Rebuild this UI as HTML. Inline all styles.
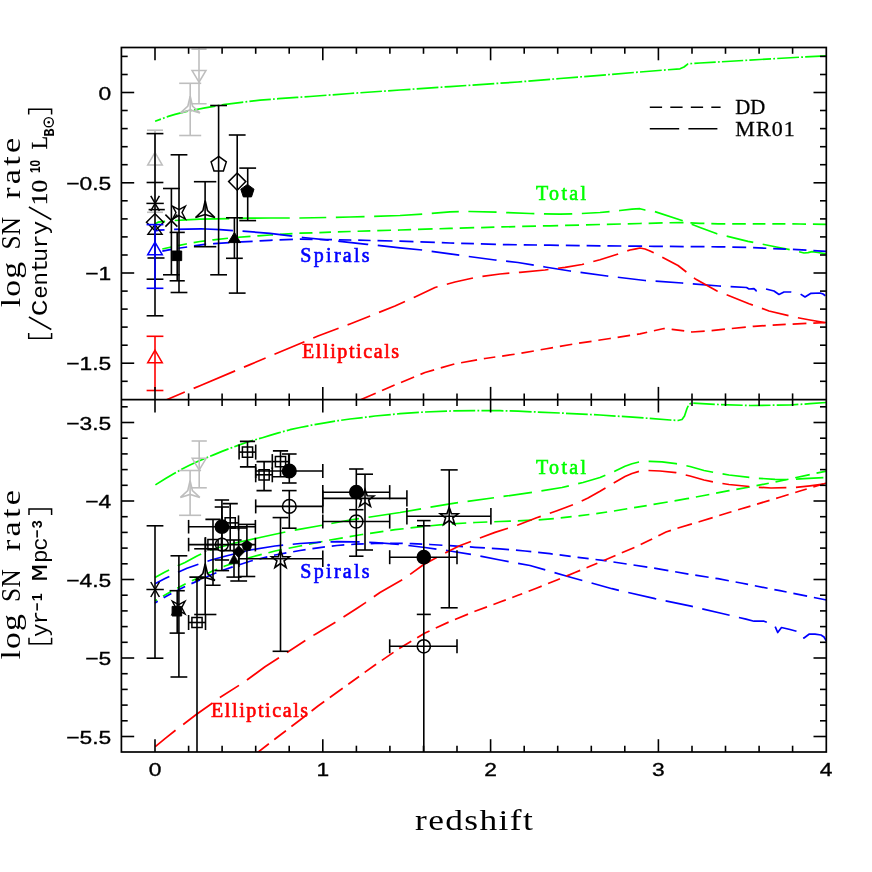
<!DOCTYPE html><html><head><meta charset="utf-8"><style>html,body{margin:0;padding:0;background:#fff}svg{display:block;will-change:transform;transform:translateZ(0)}</style></head><body><svg width="872" height="872" viewBox="0 0 872 872"><defs><clipPath id="ct"><rect x="121.4" y="47.5" width="704.9" height="352.2"/></clipPath><clipPath id="cb"><rect x="121.4" y="399.7" width="704.9" height="352.3"/></clipPath></defs>
<path d="M155.1 121.3 L168.3 116.4 L175.0 114.4 L186.7 111.4 L205.0 107.8 L223.4 104.7 L241.7 102.3 L260.1 100.2 L278.4 98.7 L296.8 97.4 L310.0 96.5 L350.0 93.5 L400.0 90.0 L450.0 86.6 L518.0 82.0 L560.0 78.5 L600.0 75.3 L640.0 72.0 L680.0 68.8 L684.0 67.0 L688.0 63.8 L700.0 63.0 L718.0 62.0 L760.0 59.5 L800.0 57.2 L826.0 55.8" fill="none" stroke="#00ff00" stroke-width="1.70" stroke-dasharray="6.2 2.2 1.8 2.2 21.9 2.2 1.8 2.2 21.9 2.2 1.8 2.2 21.9 2.2 1.8 2.2 21.5 2.2 1.8 2.2 21.4 2.2 1.8 2.2 22.0 2.2 1.8 2.2 21.6 2.2 1.8 2.2 21.6 2.2 1.8 2.2 22.4 2.2 1.8 2.2 21.8 2.2 1.8 2.2 21.8 2.2 1.8 2.2 21.8 2.2 1.8 2.2 21.8 2.2 1.8 2.2 21.8 2.2 1.8 2.2 21.8 2.2 1.8 2.2 21.8 2.2 1.8 2.2 21.8 2.2 1.8 2.2 21.8 2.2 1.8 2.2 21.8 2.2 1.8 2.2 21.4 2.2 1.8 2.2 21.3 2.2 1.8 2.2 21.7 2.2 1.8 2.2 21.8 2.2 1.8 2.2 26.2 0.0" clip-path="url(#ct)" stroke-linejoin="round"/>
<path d="M155.0 224.0 L158.0 222.2 L165.0 221.3 L170.0 220.8 L186.0 219.8 L200.0 219.2 L216.0 218.9 L250.0 218.2 L270.0 218.0 L300.0 218.0 L350.0 217.0 L400.0 215.5 L425.0 214.0 L450.0 211.8 L470.0 211.5 L500.0 212.3 L530.0 213.5 L560.0 214.2 L580.0 213.6 L600.0 212.5 L620.0 210.5 L632.0 209.2 L640.0 208.7 L645.0 210.0 L654.0 211.3 L682.0 220.5 L700.0 227.5 L717.0 233.8 L748.0 241.3 L779.0 247.5 L796.0 251.0 L804.0 253.0 L808.0 252.6 L812.0 251.7 L818.0 252.5 L826.0 253.8" fill="none" stroke="#00ff00" stroke-width="1.70" stroke-dasharray="10.7 9.6 54.6 9.6 50.9 9.6 26.9 9.6 28.7 9.6 48.1 9.6 27.1 9.6 28.2 9.6 28.2 9.6 28.3 9.6 27.8 9.6 26.6 9.6 29.3 9.6 27.4 9.6 27.3 9.6 27.6 9.6 32.3 0.0" clip-path="url(#ct)" stroke-linejoin="round"/>
<path d="M162.3 249.0 L172.5 246.7 L186.0 244.0 L200.0 241.5 L213.5 239.8 L235.0 237.5 L258.0 235.8 L270.0 235.0 L300.0 233.2 L350.0 231.5 L400.0 230.0 L450.0 228.4 L500.0 227.0 L550.0 225.8 L600.0 224.5 L640.0 223.5 L680.0 222.5 L700.0 223.3 L718.0 223.8 L760.0 223.8 L800.0 224.0 L826.0 224.3" fill="none" stroke="#00ff00" stroke-width="1.70" stroke-dasharray="9.2 6.9 9.0 6.9 12.0 6.9 15.7 6.9 15.7 6.9 15.7 6.9 12.6 6.9 13.1 6.9 11.6 6.9 12.8 6.9 12.8 6.9 13.8 6.9 13.2 6.9 14.6 6.9 13.3 6.9 14.5 6.9 13.3 6.9 14.0 6.9 13.8 6.9 15.3 6.9 14.0 6.9 14.0 6.9 14.0 6.9 14.0 6.9 14.0 6.9 14.0 6.9 14.0 6.9 14.0 6.9 13.6 6.9 12.7 6.9 13.1 6.9 13.7 6.9 18.0 0.0" clip-path="url(#ct)" stroke-linejoin="round"/>
<path d="M162.3 251.1 L173.3 249.0 L187.0 247.0 L204.7 244.3 L214.0 243.7 L235.0 242.2 L258.0 241.0 L270.0 240.3 L300.0 239.2 L350.0 240.0 L400.0 241.2 L450.0 243.0 L500.0 244.5 L550.0 245.2 L600.0 245.8 L654.0 246.3 L718.0 246.8 L750.0 247.5 L790.0 249.3 L826.0 251.3" fill="none" stroke="#0000ff" stroke-width="1.70" stroke-dasharray="9.5 6.9 8.8 6.9 12.3 6.9 16.4 6.9 16.4 6.9 13.1 6.9 13.4 6.9 12.8 6.9 12.5 6.9 12.4 6.9 12.4 6.9 15.0 6.9 14.1 6.9 14.5 6.9 12.5 6.9 12.8 6.9 15.1 6.9 14.0 6.9 13.3 6.9 15.0 6.9 13.9 6.9 13.9 6.9 13.9 6.9 13.9 6.9 13.9 6.9 13.9 6.9 13.9 6.9 14.0 6.9 13.9 6.9 13.2 6.9 12.8 6.9 13.6 6.9 17.6 0.0" clip-path="url(#ct)" stroke-linejoin="round"/>
<path d="M155.0 231.0 L159.0 230.2 L173.0 229.4 L201.0 228.9 L206.0 229.0 L220.0 229.7 L233.0 230.7 L242.0 231.0 L270.0 233.4 L303.0 237.5 L340.0 241.3 L367.0 244.3 L400.0 247.8 L422.0 250.0 L460.0 255.3 L495.0 260.0 L518.0 262.5 L545.0 267.0 L570.0 271.0 L607.0 276.0 L645.0 280.5 L682.0 283.0 L719.0 286.0 L746.5 287.5 L749.0 289.0 L754.0 288.7 L756.5 291.0 L760.0 290.0 L766.0 289.0 L774.0 291.0 L779.0 294.5 L784.0 292.0 L791.0 292.0 L800.0 293.7 L805.0 297.0 L811.0 293.3 L820.0 293.0 L823.0 294.0 L826.5 296.5" fill="none" stroke="#0000ff" stroke-width="1.70" stroke-dasharray="9.6 9.6 58.9 9.6 50.0 9.6 27.1 9.6 30.1 9.6 44.6 9.6 27.9 9.6 28.0 9.6 28.0 9.6 28.1 9.6 28.0 9.6 28.4 9.6 27.7 9.6 28.3 9.6 27.4 9.6 27.2 9.6 27.4 1.4 5.0 0.0" clip-path="url(#ct)" stroke-linejoin="round"/>
<path d="M166.0 400.0 L200.0 385.7 L250.0 364.6 L318.0 336.0 L350.0 324.0 L395.0 306.0 L415.0 297.0 L435.0 287.5 L455.0 282.0 L475.0 277.5 L500.0 274.0 L520.0 272.3 L545.0 270.0 L565.0 267.3 L582.0 264.5 L600.0 259.8 L615.0 255.0 L630.0 250.0 L636.0 248.8 L640.0 248.0 L645.0 249.0 L650.0 251.0 L662.0 257.0 L678.0 265.5 L695.0 278.7 L717.0 291.0 L749.0 303.7 L769.0 311.0 L794.0 317.0 L810.0 320.0 L826.5 323.0" fill="none" stroke="#ff0000" stroke-width="1.70" stroke-dasharray="20.4 9.6 45.0 9.6 23.5 9.6 32.5 9.6 27.1 9.6 24.3 9.6 28.1 9.6 26.2 9.6 26.9 9.6 27.1 9.6 29.7 9.6 26.4 9.6 26.0 9.6 27.7 9.6 28.4 9.6 27.3 9.6 28.2 9.6 27.6 9.6 27.4 1.9 5.0 0.0" clip-path="url(#ct)" stroke-linejoin="round"/>
<path d="M360.0 400.0 L390.0 387.0 L425.0 372.5 L455.0 363.8 L485.0 358.5 L518.0 353.8 L545.0 349.0 L575.0 343.8 L610.0 338.5 L640.0 333.8 L655.0 330.5 L664.0 328.5 L672.0 329.3 L692.0 332.0 L710.0 330.7 L730.0 328.7 L754.0 326.3 L790.0 324.2 L826.5 322.5" fill="none" stroke="#ff0000" stroke-width="1.70" stroke-dasharray="17.1 6.9 13.7 6.9 14.2 6.9 14.4 6.9 14.1 6.9 16.2 6.9 11.6 6.9 12.6 6.9 12.6 6.9 12.6 6.9 12.6 6.9 12.6 6.9 12.6 6.9 12.6 6.9 10.5 6.9 11.1 6.9 12.7 6.9 13.7 6.9 13.4 6.9 14.1 6.9 13.1 6.9 13.1 6.9 13.8 6.9 17.9 0.0" clip-path="url(#ct)" stroke-linejoin="round"/>
<path d="M155.4 484.9 L166.0 478.3 L175.0 473.0 L182.1 469.0 L190.0 465.1 L198.2 461.3 L206.0 458.0 L214.2 454.6 L222.0 451.4 L230.3 448.2 L238.0 445.4 L246.3 442.5 L254.0 440.1 L262.4 437.7 L270.0 435.4 L278.4 432.9 L290.0 429.7 L300.0 427.5 L311.4 425.2 L325.0 422.8 L338.0 420.7 L350.0 419.0 L365.7 417.2 L375.0 416.0 L400.0 413.7 L425.0 412.0 L450.0 411.0 L475.0 410.6 L500.0 410.7 L518.0 411.2 L560.0 413.0 L600.0 415.0 L640.0 417.7 L670.0 420.0 L678.0 420.5 L682.0 419.5 L684.5 416.0 L687.0 408.5 L689.0 404.2 L692.0 403.0 L718.0 404.5 L750.0 405.5 L790.0 405.0 L810.0 403.7 L826.0 402.5" fill="none" stroke="#00ff00" stroke-width="1.70" stroke-dasharray="24.0 2.2 1.8 2.2 25.5 2.2 1.8 2.2 19.8 2.2 1.8 2.2 19.8 2.2 1.8 2.2 22.7 2.2 1.8 2.2 22.2 2.2 1.8 2.2 20.8 2.2 1.8 2.2 21.7 2.2 1.8 2.2 22.0 2.2 1.8 2.2 22.0 2.2 1.8 2.2 22.0 2.2 1.8 2.2 22.0 2.2 1.8 2.2 22.0 2.2 1.8 2.2 22.0 2.2 1.8 2.2 22.0 2.2 1.8 2.2 21.8 2.2 1.8 2.2 21.7 2.2 1.8 2.2 21.8 2.2 1.8 2.2 21.7 2.2 1.8 2.2 19.8 2.2 1.8 2.2 21.6 2.2 1.8 2.2 21.7 2.2 1.8 2.2 21.6 2.2 1.8 2.2 21.7 2.2 1.8 2.2 26.5 0.0" clip-path="url(#cb)" stroke-linejoin="round"/>
<path d="M155.0 577.5 L165.0 572.0 L175.0 567.0 L185.0 562.5 L197.0 556.0 L210.0 550.0 L235.0 543.0 L260.0 537.5 L290.0 531.0 L318.0 526.0 L350.0 520.0 L400.0 512.5 L450.0 503.8 L505.0 496.2 L535.0 492.0 L562.0 487.5 L583.0 482.5 L600.0 477.5 L613.0 472.0 L625.0 466.3 L632.0 463.8 L639.0 462.0 L650.0 461.3 L662.0 461.9 L676.0 463.7 L690.0 466.5 L704.0 470.5 L717.0 473.0 L729.0 475.0 L754.0 478.0 L775.0 479.3 L786.0 479.5 L804.0 478.7 L826.5 477.5" fill="none" stroke="#00ff00" stroke-width="1.70" stroke-dasharray="16.0 9.6 26.2 9.6 77.6 9.6 27.6 9.6 28.1 9.6 53.2 9.6 27.9 9.6 26.7 9.6 28.7 9.6 27.9 9.6 28.5 9.6 26.7 9.6 28.5 9.6 27.5 9.6 27.0 9.6 27.6 9.6 27.4 3.1 5.0 0.0" clip-path="url(#cb)" stroke-linejoin="round"/>
<path d="M155.0 601.0 L165.0 595.0 L175.0 589.5 L187.0 583.0 L200.0 577.0 L212.0 571.3 L225.0 566.0 L250.0 557.5 L275.0 551.0 L300.0 546.0 L330.0 540.0 L362.0 534.5 L395.0 529.7 L425.0 526.3 L450.0 524.0 L475.0 522.5 L500.0 521.5 L518.0 520.8 L537.0 520.0 L555.0 518.5 L575.0 516.3 L595.0 513.8 L612.0 511.3 L630.0 508.3 L650.0 505.0 L670.0 501.6 L687.0 498.7 L704.0 495.5 L729.0 490.7 L754.0 486.2 L775.0 482.0 L791.0 478.7 L810.0 474.5 L826.5 471.2" fill="none" stroke="#00ff00" stroke-width="1.70" stroke-dasharray="2.4 6.9 9.4 6.9 9.6 6.9 10.9 6.9 10.0 6.9 16.6 6.9 16.6 6.9 13.8 6.9 13.8 6.9 13.8 6.9 13.8 6.9 13.8 6.9 13.5 6.9 13.5 6.9 13.4 6.9 14.3 6.9 14.5 6.9 14.2 6.9 16.7 6.9 14.0 6.9 15.2 6.9 11.0 6.9 11.0 6.9 11.0 6.9 13.5 6.9 12.8 6.9 14.4 6.9 14.8 6.9 13.7 6.9 13.7 6.9 13.6 6.9 12.5 6.9 13.2 6.9 14.9 6.9 15.3 0.0" clip-path="url(#cb)" stroke-linejoin="round"/>
<path d="M155.0 603.0 L165.0 597.0 L175.0 591.5 L187.0 585.5 L200.0 580.0 L212.0 574.5 L225.0 569.5 L250.0 561.2 L275.0 555.0 L300.0 550.5 L318.0 547.8 L337.0 545.5 L355.0 544.2 L375.0 543.5 L395.0 543.3 L412.0 543.6 L430.0 544.5 L450.0 545.7 L475.0 547.3 L500.0 548.8 L525.0 551.0 L550.0 553.7 L578.0 557.3 L605.0 560.7 L650.0 567.5 L690.0 574.3 L718.0 578.7 L741.0 583.0 L780.0 590.7 L826.5 600.0" fill="none" stroke="#0000ff" stroke-width="1.70" stroke-dasharray="3.2 6.9 8.8 6.9 8.6 6.9 9.4 6.9 10.9 6.9 10.5 6.9 14.2 6.9 8.0 6.9 12.6 6.9 12.6 6.9 12.6 6.9 12.6 6.9 12.6 6.9 12.6 6.9 12.6 6.9 12.6 6.9 13.3 6.9 13.7 6.9 15.1 6.9 17.3 6.9 15.4 6.9 14.7 6.9 11.2 6.9 11.2 6.9 11.2 6.9 13.4 6.9 14.0 6.9 14.4 6.9 13.5 6.9 13.5 6.9 13.6 6.9 12.7 6.9 13.0 6.9 12.5 6.9 14.0 6.9 17.4 0.0" clip-path="url(#cb)" stroke-linejoin="round"/>
<path d="M155.0 583.7 L165.0 578.5 L175.0 573.7 L187.0 568.3 L200.0 563.7 L212.0 559.8 L225.0 556.2 L250.0 550.0 L275.0 546.0 L300.0 543.5 L318.0 542.3 L337.0 541.7 L355.0 541.8 L375.0 542.5 L400.0 544.5 L425.0 547.5 L450.0 551.0 L475.0 555.0 L500.0 560.0 L530.0 565.5 L567.0 576.2 L612.0 588.7 L655.0 598.7 L691.0 606.2 L720.0 613.0 L746.0 619.2 L754.0 621.2 L764.0 621.2 L770.0 623.5 L775.0 626.2 L777.7 632.5 L781.5 627.5 L790.0 629.5 L798.0 631.7 L802.0 634.0 L804.0 638.0 L809.0 634.2 L815.0 634.2 L821.0 635.0 L824.0 637.0 L826.5 641.2" fill="none" stroke="#0000ff" stroke-width="1.70" stroke-dasharray="16.1 9.6 21.9 9.6 77.5 9.6 28.3 9.6 29.1 9.6 29.7 9.6 28.3 9.6 25.3 9.6 28.8 9.6 28.0 9.6 28.9 9.6 28.3 9.6 28.7 9.6 27.9 9.6 28.1 9.6 28.5 9.6 28.1 9.6 27.4 0.5 5.0 0.0" clip-path="url(#cb)" stroke-linejoin="round"/>
<path d="M155.3 746.6 L165.0 738.7 L176.6 729.4 L182.2 725.3 L196.6 714.3 L213.1 702.6 L219.3 697.8 L240.0 684.7 L246.1 680.6 L265.0 666.8 L285.0 653.8 L305.8 640.2 L315.0 634.4 L336.3 621.7 L357.5 608.0 L365.6 602.6 L380.0 592.5 L403.8 578.9 L423.4 564.8 L440.0 555.7 L459.5 545.8 L476.0 539.5 L495.0 532.4 L518.0 525.0 L536.6 517.8 L557.0 510.7 L575.0 504.0 L588.0 498.0 L600.0 491.3 L612.0 484.0 L625.0 476.5 L632.0 473.5 L639.0 471.3 L648.0 470.5 L660.0 471.0 L676.0 472.7 L690.0 476.0 L704.0 480.0 L717.0 482.7 L729.0 484.5 L754.0 487.0 L771.0 488.0 L794.0 487.5 L810.0 485.8 L826.5 483.7" fill="none" stroke="#ff0000" stroke-width="1.70" stroke-dasharray="26.0 9.6 36.0 9.6 22.6 9.6 39.0 9.6 21.9 9.6 25.6 9.6 26.9 9.6 33.1 9.6 31.5 9.6 28.3 9.6 29.7 9.6 25.3 9.6 24.6 9.6 27.1 9.6 27.9 9.6 28.0 9.6 28.1 9.6 27.0 9.6 27.6 9.6 27.4 3.3 5.0 0.0" clip-path="url(#cb)" stroke-linejoin="round"/>
<path d="M257.0 753.0 L275.0 739.0 L300.0 720.0 L318.0 706.0 L350.0 683.0 L375.0 665.0 L400.0 648.0 L425.0 633.0 L450.0 621.5 L475.0 611.3 L500.0 602.0 L518.0 595.3 L537.0 588.0 L557.0 580.0 L575.0 572.5 L590.0 566.3 L605.0 560.0 L620.0 553.6 L637.0 546.3 L650.0 540.0 L659.0 535.5 L666.0 532.0 L679.0 527.8 L700.0 521.5 L729.0 512.5 L754.0 505.0 L779.0 497.5 L800.0 491.0 L826.5 483.0" fill="none" stroke="#ff0000" stroke-width="1.70" stroke-dasharray="15.0 6.9 14.6 6.9 18.6 6.9 15.8 6.9 15.8 6.9 13.3 6.9 14.1 6.9 14.1 6.9 14.1 6.9 14.1 6.9 14.1 6.9 14.1 6.9 13.4 6.9 13.2 6.9 10.6 6.9 14.0 6.9 12.8 6.9 15.0 6.9 11.7 6.9 12.8 6.9 13.7 6.9 12.8 6.9 13.7 6.9 15.1 6.9 14.8 6.9 12.8 6.9 12.9 6.9 13.0 6.9 13.1 6.9 12.0 6.9 13.8 0.2 5.0 0.0" clip-path="url(#cb)" stroke-linejoin="round"/>
<path d="M649.8 107.2 H720.6" stroke="#000" stroke-width="1.6" stroke-dasharray="12.3 8.2" fill="none"/>
<path d="M649.8 128.7 H717.4" stroke="#000" stroke-width="1.6" stroke-dasharray="29.4 9.2" fill="none"/>
<line x1="199.0" y1="42.0" x2="199.0" y2="103.7" stroke="#bebebe" stroke-width="1.60" clip-path="url(#ct)"/>
<line x1="191.4" y1="42.0" x2="206.6" y2="42.0" stroke="#bebebe" stroke-width="1.60" clip-path="url(#ct)"/>
<line x1="191.4" y1="103.7" x2="206.6" y2="103.7" stroke="#bebebe" stroke-width="1.60" clip-path="url(#ct)"/>
<line x1="191.4" y1="49.2" x2="206.6" y2="49.2" stroke="#bebebe" stroke-width="1.60"/>
<polygon points="199.0,82.2 192.0,70.5 206.0,70.5" fill="none" stroke="#bebebe" stroke-width="1.50" stroke-linejoin="miter"/>
<line x1="190.2" y1="83.3" x2="190.2" y2="135.5" stroke="#bebebe" stroke-width="1.60"/>
<line x1="179.2" y1="83.3" x2="201.2" y2="83.3" stroke="#bebebe" stroke-width="1.60"/>
<line x1="179.2" y1="135.5" x2="201.2" y2="135.5" stroke="#bebebe" stroke-width="1.60"/>
<polygon points="190.2,96.1 192.5,106.0 199.9,112.9 190.2,109.9 180.5,112.9 187.9,106.0" fill="none" stroke="#bebebe" stroke-width="1.60" stroke-linejoin="miter"/>
<line x1="155.0" y1="130.2" x2="155.0" y2="212.3" stroke="#bebebe" stroke-width="1.60"/>
<line x1="147.0" y1="130.2" x2="163.0" y2="130.2" stroke="#bebebe" stroke-width="1.60"/>
<line x1="147.0" y1="212.3" x2="163.0" y2="212.3" stroke="#bebebe" stroke-width="1.60"/>
<polygon points="155.0,152.4 147.7,165.0 162.3,165.0" fill="none" stroke="#bebebe" stroke-width="1.50" stroke-linejoin="miter"/>
<line x1="155.0" y1="133.6" x2="155.0" y2="315.8" stroke="#000" stroke-width="1.60"/>
<line x1="146.6" y1="133.6" x2="163.4" y2="133.6" stroke="#000" stroke-width="1.60"/>
<line x1="146.6" y1="315.8" x2="163.4" y2="315.8" stroke="#000" stroke-width="1.60"/>
<line x1="146.6" y1="182.5" x2="163.4" y2="182.5" stroke="#000" stroke-width="1.60"/>
<line x1="148.6" y1="209.6" x2="164.8" y2="209.6" stroke="#000" stroke-width="1.60"/>
<line x1="147.5" y1="258.0" x2="164.5" y2="258.0" stroke="#000" stroke-width="1.60"/>
<line x1="146.6" y1="279.2" x2="163.4" y2="279.2" stroke="#000" stroke-width="1.60"/>
<line x1="146.4" y1="203.4" x2="163.8" y2="203.4" stroke="#000" stroke-width="1.50"/>
<line x1="150.8" y1="195.9" x2="159.4" y2="210.9" stroke="#000" stroke-width="1.50"/>
<line x1="159.4" y1="195.9" x2="150.8" y2="210.9" stroke="#000" stroke-width="1.50"/>
<polygon points="155.0,213.7 163.5,222.2 155.0,230.7 146.5,222.2" fill="none" stroke="#000" stroke-width="1.50" stroke-linejoin="miter"/>
<polygon points="155.0,224.5 147.9,234.2 162.1,234.2" fill="none" stroke="#000" stroke-width="1.40" stroke-linejoin="miter"/>
<line x1="155.0" y1="224.6" x2="155.0" y2="288.3" stroke="#0000ff" stroke-width="1.60"/>
<line x1="146.6" y1="224.6" x2="163.4" y2="224.6" stroke="#0000ff" stroke-width="1.60"/>
<line x1="146.6" y1="288.3" x2="163.4" y2="288.3" stroke="#0000ff" stroke-width="1.60"/>
<polygon points="155.0,242.2 147.7,254.8 162.3,254.8" fill="none" stroke="#0000ff" stroke-width="1.50" stroke-linejoin="miter"/>
<line x1="155.0" y1="336.3" x2="155.0" y2="390.5" stroke="#ff0000" stroke-width="1.60"/>
<line x1="146.6" y1="336.3" x2="163.4" y2="336.3" stroke="#ff0000" stroke-width="1.60"/>
<line x1="146.6" y1="390.5" x2="163.4" y2="390.5" stroke="#ff0000" stroke-width="1.60"/>
<polygon points="155.0,350.2 147.7,362.8 162.3,362.8" fill="none" stroke="#ff0000" stroke-width="1.50" stroke-linejoin="miter"/>
<line x1="171.4" y1="188.5" x2="171.4" y2="274.8" stroke="#000" stroke-width="1.60"/>
<line x1="163.0" y1="188.5" x2="179.8" y2="188.5" stroke="#000" stroke-width="1.60"/>
<line x1="163.0" y1="274.8" x2="179.8" y2="274.8" stroke="#000" stroke-width="1.60"/>
<line x1="165.4" y1="214.6" x2="177.4" y2="226.6" stroke="#000" stroke-width="1.50"/>
<line x1="165.4" y1="226.6" x2="177.4" y2="214.6" stroke="#000" stroke-width="1.50"/>
<line x1="179.0" y1="154.8" x2="179.0" y2="292.5" stroke="#000" stroke-width="1.60"/>
<line x1="170.6" y1="154.8" x2="187.4" y2="154.8" stroke="#000" stroke-width="1.60"/>
<line x1="170.6" y1="292.5" x2="187.4" y2="292.5" stroke="#000" stroke-width="1.60"/>
<polygon points="185.4,206.2 182.0,212.6 185.4,219.0 179.0,215.6 172.6,219.0 176.0,212.6 172.6,206.2 179.0,209.6" fill="none" stroke="#000" stroke-width="1.40" stroke-linejoin="miter"/>
<line x1="177.2" y1="232.4" x2="177.2" y2="280.8" stroke="#000" stroke-width="1.60"/>
<line x1="169.6" y1="232.4" x2="184.8" y2="232.4" stroke="#000" stroke-width="1.60"/>
<line x1="169.6" y1="280.8" x2="184.8" y2="280.8" stroke="#000" stroke-width="1.60"/>
<polygon points="172.1,251.0 181.7,251.0 181.7,260.6 172.1,260.6" fill="#000" stroke="#000" stroke-width="1.00" stroke-linejoin="miter"/>
<line x1="205.1" y1="181.7" x2="205.1" y2="246.7" stroke="#000" stroke-width="1.60"/>
<line x1="193.9" y1="181.7" x2="216.3" y2="181.7" stroke="#000" stroke-width="1.60"/>
<line x1="193.9" y1="246.7" x2="216.3" y2="246.7" stroke="#000" stroke-width="1.60"/>
<polygon points="205.2,200.7 207.5,210.6 214.9,217.5 205.2,214.5 195.5,217.5 202.9,210.6" fill="none" stroke="#000" stroke-width="1.60" stroke-linejoin="miter"/>
<line x1="218.6" y1="105.5" x2="218.6" y2="274.8" stroke="#000" stroke-width="1.60"/>
<line x1="210.2" y1="105.5" x2="227.0" y2="105.5" stroke="#000" stroke-width="1.60"/>
<line x1="210.2" y1="274.8" x2="227.0" y2="274.8" stroke="#000" stroke-width="1.60"/>
<polygon points="218.7,156.4 226.3,161.9 223.4,170.9 214.0,170.9 211.1,161.9" fill="none" stroke="#000" stroke-width="1.50" stroke-linejoin="miter"/>
<line x1="237.2" y1="135.0" x2="237.2" y2="293.1" stroke="#000" stroke-width="1.60"/>
<line x1="228.8" y1="135.0" x2="245.6" y2="135.0" stroke="#000" stroke-width="1.60"/>
<line x1="228.8" y1="293.1" x2="245.6" y2="293.1" stroke="#000" stroke-width="1.60"/>
<polygon points="237.2,173.0 245.8,181.6 237.2,190.2 228.6,181.6" fill="none" stroke="#000" stroke-width="1.50" stroke-linejoin="miter"/>
<line x1="247.7" y1="168.1" x2="247.7" y2="220.6" stroke="#000" stroke-width="1.60"/>
<line x1="239.3" y1="168.1" x2="256.1" y2="168.1" stroke="#000" stroke-width="1.60"/>
<line x1="239.3" y1="220.6" x2="256.1" y2="220.6" stroke="#000" stroke-width="1.60"/>
<polygon points="247.4,184.4 254.0,189.2 251.5,196.9 243.3,196.9 240.8,189.2" fill="#000" stroke="#000" stroke-width="1.00" stroke-linejoin="miter"/>
<line x1="234.4" y1="217.8" x2="234.4" y2="258.3" stroke="#000" stroke-width="1.60"/>
<line x1="226.0" y1="217.8" x2="242.8" y2="217.8" stroke="#000" stroke-width="1.60"/>
<line x1="226.0" y1="258.3" x2="242.8" y2="258.3" stroke="#000" stroke-width="1.60"/>
<polygon points="234.4,232.4 228.3,242.6 240.5,242.6" fill="#000" stroke="#000" stroke-width="1.00" stroke-linejoin="miter"/>
<line x1="199.2" y1="441.0" x2="199.2" y2="487.8" stroke="#bebebe" stroke-width="1.60"/>
<line x1="191.6" y1="441.0" x2="206.8" y2="441.0" stroke="#bebebe" stroke-width="1.60"/>
<line x1="191.6" y1="487.8" x2="206.8" y2="487.8" stroke="#bebebe" stroke-width="1.60"/>
<polygon points="199.2,470.0 192.2,458.3 206.2,458.3" fill="none" stroke="#bebebe" stroke-width="1.50" stroke-linejoin="miter"/>
<line x1="190.1" y1="470.5" x2="190.1" y2="515.3" stroke="#bebebe" stroke-width="1.60"/>
<line x1="179.1" y1="470.5" x2="201.1" y2="470.5" stroke="#bebebe" stroke-width="1.60"/>
<line x1="179.1" y1="515.3" x2="201.1" y2="515.3" stroke="#bebebe" stroke-width="1.60"/>
<polygon points="190.1,480.6 192.4,490.5 199.8,497.4 190.1,494.4 180.4,497.4 187.8,490.5" fill="none" stroke="#bebebe" stroke-width="1.60" stroke-linejoin="miter"/>
<line x1="155.0" y1="525.8" x2="155.0" y2="658.2" stroke="#000" stroke-width="1.60"/>
<line x1="146.6" y1="525.8" x2="163.4" y2="525.8" stroke="#000" stroke-width="1.60"/>
<line x1="146.6" y1="658.2" x2="163.4" y2="658.2" stroke="#000" stroke-width="1.60"/>
<line x1="146.4" y1="589.5" x2="163.8" y2="589.5" stroke="#000" stroke-width="1.50"/>
<line x1="150.8" y1="582.0" x2="159.4" y2="597.0" stroke="#000" stroke-width="1.50"/>
<line x1="159.4" y1="582.0" x2="150.8" y2="597.0" stroke="#000" stroke-width="1.50"/>
<line x1="178.9" y1="555.8" x2="178.9" y2="677.0" stroke="#000" stroke-width="1.60"/>
<line x1="170.5" y1="555.8" x2="187.3" y2="555.8" stroke="#000" stroke-width="1.60"/>
<line x1="170.5" y1="677.0" x2="187.3" y2="677.0" stroke="#000" stroke-width="1.60"/>
<polygon points="185.1,601.2 181.7,607.6 185.1,614.0 178.7,610.6 172.3,614.0 175.7,607.6 172.3,601.2 178.7,604.6" fill="none" stroke="#000" stroke-width="1.40" stroke-linejoin="miter"/>
<line x1="177.2" y1="590.7" x2="177.2" y2="633.1" stroke="#000" stroke-width="1.60"/>
<line x1="169.6" y1="590.7" x2="184.8" y2="590.7" stroke="#000" stroke-width="1.60"/>
<line x1="169.6" y1="633.1" x2="184.8" y2="633.1" stroke="#000" stroke-width="1.60"/>
<polygon points="172.1,606.4 181.7,606.4 181.7,616.0 172.1,616.0" fill="#000" stroke="#000" stroke-width="1.00" stroke-linejoin="miter"/>
<line x1="205.2" y1="537.4" x2="205.2" y2="614.5" stroke="#000" stroke-width="1.60"/>
<line x1="194.2" y1="548.8" x2="216.4" y2="548.8" stroke="#000" stroke-width="1.60"/>
<line x1="194.2" y1="614.5" x2="216.4" y2="614.5" stroke="#000" stroke-width="1.60"/>
<polygon points="205.2,563.6 207.5,573.5 214.9,580.4 205.2,577.4 195.5,580.4 202.9,573.5" fill="none" stroke="#000" stroke-width="1.60" stroke-linejoin="miter"/>
<line x1="247.5" y1="441.4" x2="247.5" y2="466.9" stroke="#000" stroke-width="1.60" clip-path="url(#cb)"/>
<line x1="239.9" y1="441.4" x2="255.1" y2="441.4" stroke="#000" stroke-width="1.60" clip-path="url(#cb)"/>
<line x1="239.9" y1="466.9" x2="255.1" y2="466.9" stroke="#000" stroke-width="1.60" clip-path="url(#cb)"/>
<line x1="239.1" y1="452.1" x2="255.7" y2="452.1" stroke="#000" stroke-width="1.60"/>
<line x1="239.1" y1="444.6" x2="239.1" y2="459.6" stroke="#000" stroke-width="1.60"/>
<line x1="255.7" y1="444.6" x2="255.7" y2="459.6" stroke="#000" stroke-width="1.60"/>
<polygon points="242.4,447.0 252.6,447.0 252.6,457.2 242.4,457.2" fill="none" stroke="#000" stroke-width="1.50" stroke-linejoin="miter"/>
<line x1="264.1" y1="461.6" x2="264.1" y2="490.6" stroke="#000" stroke-width="1.60" clip-path="url(#cb)"/>
<line x1="256.5" y1="461.6" x2="271.7" y2="461.6" stroke="#000" stroke-width="1.60" clip-path="url(#cb)"/>
<line x1="256.5" y1="490.6" x2="271.7" y2="490.6" stroke="#000" stroke-width="1.60" clip-path="url(#cb)"/>
<line x1="255.7" y1="474.8" x2="272.3" y2="474.8" stroke="#000" stroke-width="1.60"/>
<line x1="255.7" y1="467.3" x2="255.7" y2="482.3" stroke="#000" stroke-width="1.60"/>
<line x1="272.3" y1="467.3" x2="272.3" y2="482.3" stroke="#000" stroke-width="1.60"/>
<polygon points="259.0,469.7 269.2,469.7 269.2,479.9 259.0,479.9" fill="none" stroke="#000" stroke-width="1.50" stroke-linejoin="miter"/>
<line x1="280.5" y1="450.9" x2="280.5" y2="476.7" stroke="#000" stroke-width="1.60" clip-path="url(#cb)"/>
<line x1="272.9" y1="450.9" x2="288.1" y2="450.9" stroke="#000" stroke-width="1.60" clip-path="url(#cb)"/>
<line x1="272.9" y1="476.7" x2="288.1" y2="476.7" stroke="#000" stroke-width="1.60" clip-path="url(#cb)"/>
<line x1="272.3" y1="461.6" x2="288.7" y2="461.6" stroke="#000" stroke-width="1.60"/>
<line x1="272.3" y1="454.1" x2="272.3" y2="469.1" stroke="#000" stroke-width="1.60"/>
<line x1="288.7" y1="454.1" x2="288.7" y2="469.1" stroke="#000" stroke-width="1.60"/>
<polygon points="275.4,456.5 285.6,456.5 285.6,466.7 275.4,466.7" fill="none" stroke="#000" stroke-width="1.50" stroke-linejoin="miter"/>
<line x1="230.2" y1="503.6" x2="230.2" y2="550.6" stroke="#000" stroke-width="1.60" clip-path="url(#cb)"/>
<line x1="222.6" y1="503.6" x2="237.8" y2="503.6" stroke="#000" stroke-width="1.60" clip-path="url(#cb)"/>
<line x1="222.6" y1="550.6" x2="237.8" y2="550.6" stroke="#000" stroke-width="1.60" clip-path="url(#cb)"/>
<line x1="222.0" y1="522.9" x2="238.5" y2="522.9" stroke="#000" stroke-width="1.60"/>
<line x1="222.0" y1="515.4" x2="222.0" y2="530.4" stroke="#000" stroke-width="1.60"/>
<line x1="238.5" y1="515.4" x2="238.5" y2="530.4" stroke="#000" stroke-width="1.60"/>
<polygon points="225.1,517.8 235.3,517.8 235.3,528.0 225.1,528.0" fill="none" stroke="#000" stroke-width="1.50" stroke-linejoin="miter"/>
<line x1="213.0" y1="519.4" x2="213.0" y2="585.3" stroke="#000" stroke-width="1.60" clip-path="url(#cb)"/>
<line x1="205.4" y1="519.4" x2="220.6" y2="519.4" stroke="#000" stroke-width="1.60" clip-path="url(#cb)"/>
<line x1="205.4" y1="585.3" x2="220.6" y2="585.3" stroke="#000" stroke-width="1.60" clip-path="url(#cb)"/>
<line x1="205.5" y1="544.6" x2="221.5" y2="544.6" stroke="#000" stroke-width="1.60"/>
<line x1="205.5" y1="537.1" x2="205.5" y2="552.1" stroke="#000" stroke-width="1.60"/>
<line x1="221.5" y1="537.1" x2="221.5" y2="552.1" stroke="#000" stroke-width="1.60"/>
<polygon points="207.9,539.5 218.1,539.5 218.1,549.7 207.9,549.7" fill="none" stroke="#000" stroke-width="1.50" stroke-linejoin="miter"/>
<line x1="197.0" y1="577.1" x2="197.0" y2="760.0" stroke="#000" stroke-width="1.60" clip-path="url(#cb)"/>
<line x1="189.4" y1="577.1" x2="204.6" y2="577.1" stroke="#000" stroke-width="1.60" clip-path="url(#cb)"/>
<line x1="189.4" y1="760.0" x2="204.6" y2="760.0" stroke="#000" stroke-width="1.60" clip-path="url(#cb)"/>
<line x1="188.6" y1="622.5" x2="205.5" y2="622.5" stroke="#000" stroke-width="1.60"/>
<line x1="188.6" y1="615.0" x2="188.6" y2="630.0" stroke="#000" stroke-width="1.60"/>
<line x1="205.5" y1="615.0" x2="205.5" y2="630.0" stroke="#000" stroke-width="1.60"/>
<polygon points="191.9,617.4 202.1,617.4 202.1,627.6 191.9,627.6" fill="none" stroke="#000" stroke-width="1.50" stroke-linejoin="miter"/>
<line x1="188.6" y1="526.7" x2="255.4" y2="526.7" stroke="#000" stroke-width="1.60"/>
<line x1="188.6" y1="519.9" x2="188.6" y2="533.5" stroke="#000" stroke-width="1.60"/>
<line x1="255.4" y1="519.9" x2="255.4" y2="533.5" stroke="#000" stroke-width="1.60"/>
<line x1="221.9" y1="500.0" x2="221.9" y2="560.0" stroke="#000" stroke-width="1.60"/>
<line x1="214.7" y1="500.0" x2="229.1" y2="500.0" stroke="#000" stroke-width="1.60"/>
<line x1="214.7" y1="560.0" x2="229.1" y2="560.0" stroke="#000" stroke-width="1.60"/>
<circle cx="221.9" cy="526.7" r="6.6" fill="#000" stroke="#000" stroke-width="1.5"/>
<line x1="188.6" y1="544.6" x2="255.4" y2="544.6" stroke="#000" stroke-width="1.60"/>
<line x1="188.6" y1="537.8" x2="188.6" y2="551.4" stroke="#000" stroke-width="1.60"/>
<line x1="255.4" y1="537.8" x2="255.4" y2="551.4" stroke="#000" stroke-width="1.60"/>
<line x1="221.9" y1="507.0" x2="221.9" y2="570.6" stroke="#000" stroke-width="1.60"/>
<line x1="214.7" y1="507.0" x2="229.1" y2="507.0" stroke="#000" stroke-width="1.60"/>
<line x1="214.7" y1="570.6" x2="229.1" y2="570.6" stroke="#000" stroke-width="1.60"/>
<circle cx="221.9" cy="544.6" r="6.4" fill="none" stroke="#000" stroke-width="1.5"/>
<line x1="238.7" y1="528.0" x2="238.7" y2="581.0" stroke="#000" stroke-width="1.60"/>
<line x1="230.3" y1="528.0" x2="247.1" y2="528.0" stroke="#000" stroke-width="1.60"/>
<line x1="230.3" y1="581.0" x2="247.1" y2="581.0" stroke="#000" stroke-width="1.60"/>
<polygon points="238.7,545.7 244.7,551.7 238.7,557.7 232.7,551.7" fill="#000" stroke="#000" stroke-width="0.60" stroke-linejoin="miter"/>
<line x1="246.9" y1="524.4" x2="246.9" y2="576.5" stroke="#000" stroke-width="1.60"/>
<line x1="238.5" y1="524.4" x2="255.3" y2="524.4" stroke="#000" stroke-width="1.60"/>
<line x1="238.5" y1="576.5" x2="255.3" y2="576.5" stroke="#000" stroke-width="1.60"/>
<polygon points="246.9,540.1 252.3,544.0 250.3,550.4 243.5,550.4 241.5,544.0" fill="#000" stroke="#000" stroke-width="0.50" stroke-linejoin="miter"/>
<line x1="234.0" y1="540.0" x2="234.0" y2="577.1" stroke="#000" stroke-width="1.60"/>
<line x1="226.4" y1="540.0" x2="241.6" y2="540.0" stroke="#000" stroke-width="1.60"/>
<line x1="226.4" y1="577.1" x2="241.6" y2="577.1" stroke="#000" stroke-width="1.60"/>
<polygon points="234.0,554.2 228.8,563.8 239.2,563.8" fill="#000" stroke="#000" stroke-width="0.60" stroke-linejoin="miter"/>
<line x1="255.7" y1="471.0" x2="322.8" y2="471.0" stroke="#000" stroke-width="1.60"/>
<line x1="255.7" y1="464.0" x2="255.7" y2="478.0" stroke="#000" stroke-width="1.60"/>
<line x1="322.8" y1="464.0" x2="322.8" y2="478.0" stroke="#000" stroke-width="1.60"/>
<line x1="289.3" y1="454.0" x2="289.3" y2="483.0" stroke="#000" stroke-width="1.60"/>
<line x1="282.0" y1="454.0" x2="296.6" y2="454.0" stroke="#000" stroke-width="1.60"/>
<line x1="282.0" y1="483.0" x2="296.6" y2="483.0" stroke="#000" stroke-width="1.60"/>
<circle cx="289.3" cy="471.0" r="6.8" fill="#000" stroke="#000" stroke-width="1.5"/>
<line x1="255.7" y1="506.4" x2="322.8" y2="506.4" stroke="#000" stroke-width="1.60"/>
<line x1="255.7" y1="499.4" x2="255.7" y2="513.4" stroke="#000" stroke-width="1.60"/>
<line x1="322.8" y1="499.4" x2="322.8" y2="513.4" stroke="#000" stroke-width="1.60"/>
<line x1="289.3" y1="490.6" x2="289.3" y2="528.2" stroke="#000" stroke-width="1.60"/>
<line x1="282.0" y1="490.6" x2="296.6" y2="490.6" stroke="#000" stroke-width="1.60"/>
<line x1="282.0" y1="528.2" x2="296.6" y2="528.2" stroke="#000" stroke-width="1.60"/>
<circle cx="289.3" cy="506.4" r="6.8" fill="none" stroke="#000" stroke-width="1.5"/>
<line x1="238.9" y1="558.8" x2="322.8" y2="558.8" stroke="#000" stroke-width="1.60"/>
<line x1="238.9" y1="550.6" x2="238.9" y2="567.0" stroke="#000" stroke-width="1.60"/>
<line x1="322.8" y1="550.6" x2="322.8" y2="567.0" stroke="#000" stroke-width="1.60"/>
<line x1="280.5" y1="517.6" x2="280.5" y2="651.3" stroke="#000" stroke-width="1.60"/>
<line x1="272.6" y1="517.6" x2="288.4" y2="517.6" stroke="#000" stroke-width="1.60"/>
<line x1="272.6" y1="651.3" x2="288.4" y2="651.3" stroke="#000" stroke-width="1.60"/>
<polygon points="280.5,550.2 282.7,556.6 289.5,556.8 284.1,560.9 286.1,567.4 280.5,563.5 274.9,567.4 276.9,560.9 271.5,556.8 278.3,556.6" fill="none" stroke="#000" stroke-width="1.60" stroke-linejoin="miter"/>
<line x1="322.8" y1="492.2" x2="389.7" y2="492.2" stroke="#000" stroke-width="1.60"/>
<line x1="322.8" y1="485.1" x2="322.8" y2="499.3" stroke="#000" stroke-width="1.60"/>
<line x1="389.7" y1="485.1" x2="389.7" y2="499.3" stroke="#000" stroke-width="1.60"/>
<line x1="356.3" y1="469.0" x2="356.3" y2="556.2" stroke="#000" stroke-width="1.60"/>
<line x1="349.1" y1="469.0" x2="363.5" y2="469.0" stroke="#000" stroke-width="1.60"/>
<line x1="349.1" y1="556.2" x2="363.5" y2="556.2" stroke="#000" stroke-width="1.60"/>
<line x1="349.1" y1="509.7" x2="363.5" y2="509.7" stroke="#000" stroke-width="1.60"/>
<circle cx="356.3" cy="492.2" r="6.6" fill="#000" stroke="#000" stroke-width="1.5"/>
<line x1="322.8" y1="521.5" x2="389.7" y2="521.5" stroke="#000" stroke-width="1.60"/>
<line x1="322.8" y1="514.4" x2="322.8" y2="528.6" stroke="#000" stroke-width="1.60"/>
<line x1="389.7" y1="514.4" x2="389.7" y2="528.6" stroke="#000" stroke-width="1.60"/>
<circle cx="356.3" cy="521.5" r="6.6" fill="none" stroke="#000" stroke-width="1.5"/>
<line x1="322.8" y1="498.4" x2="406.9" y2="498.4" stroke="#000" stroke-width="1.60"/>
<line x1="322.8" y1="490.2" x2="322.8" y2="506.6" stroke="#000" stroke-width="1.60"/>
<line x1="406.9" y1="490.2" x2="406.9" y2="506.6" stroke="#000" stroke-width="1.60"/>
<line x1="365.0" y1="474.2" x2="365.0" y2="550.0" stroke="#000" stroke-width="1.60"/>
<line x1="357.0" y1="474.2" x2="373.0" y2="474.2" stroke="#000" stroke-width="1.60"/>
<line x1="357.0" y1="550.0" x2="373.0" y2="550.0" stroke="#000" stroke-width="1.60"/>
<polygon points="365.0,489.4 367.2,495.8 373.9,495.9 368.6,500.0 370.5,506.4 365.0,502.6 359.5,506.4 361.4,500.0 356.1,495.9 362.8,495.8" fill="none" stroke="#000" stroke-width="1.60" stroke-linejoin="miter"/>
<line x1="406.9" y1="516.3" x2="490.9" y2="516.3" stroke="#000" stroke-width="1.60"/>
<line x1="406.9" y1="508.0" x2="406.9" y2="524.6" stroke="#000" stroke-width="1.60"/>
<line x1="490.9" y1="508.0" x2="490.9" y2="524.6" stroke="#000" stroke-width="1.60"/>
<line x1="449.2" y1="469.9" x2="449.2" y2="607.8" stroke="#000" stroke-width="1.60"/>
<line x1="440.7" y1="469.9" x2="457.7" y2="469.9" stroke="#000" stroke-width="1.60"/>
<line x1="440.7" y1="607.8" x2="457.7" y2="607.8" stroke="#000" stroke-width="1.60"/>
<polygon points="449.2,507.2 451.4,513.6 458.2,513.8 452.8,517.9 454.8,524.4 449.2,520.5 443.6,524.4 445.6,517.9 440.2,513.8 447.0,513.6" fill="none" stroke="#000" stroke-width="1.60" stroke-linejoin="miter"/>
<line x1="389.7" y1="557.2" x2="457.0" y2="557.2" stroke="#000" stroke-width="1.60"/>
<line x1="389.7" y1="550.2" x2="389.7" y2="564.2" stroke="#000" stroke-width="1.60"/>
<line x1="457.0" y1="550.2" x2="457.0" y2="564.2" stroke="#000" stroke-width="1.60"/>
<line x1="423.8" y1="520.6" x2="423.8" y2="752.0" stroke="#000" stroke-width="1.60"/>
<line x1="417.0" y1="520.6" x2="430.6" y2="520.6" stroke="#000" stroke-width="1.60"/>
<line x1="417.0" y1="525.8" x2="430.6" y2="525.8" stroke="#000" stroke-width="1.60"/>
<line x1="416.8" y1="614.4" x2="430.8" y2="614.4" stroke="#000" stroke-width="1.60"/>
<circle cx="423.8" cy="557.2" r="6.6" fill="#000" stroke="#000" stroke-width="1.5"/>
<line x1="389.7" y1="646.3" x2="457.0" y2="646.3" stroke="#000" stroke-width="1.60"/>
<line x1="389.7" y1="639.3" x2="389.7" y2="653.3" stroke="#000" stroke-width="1.60"/>
<line x1="457.0" y1="639.3" x2="457.0" y2="653.3" stroke="#000" stroke-width="1.60"/>
<circle cx="423.8" cy="646.3" r="6.6" fill="none" stroke="#000" stroke-width="1.5"/>
<rect x="121.4" y="47.5" width="704.9" height="704.5" fill="none" stroke="#000" stroke-width="1.70"/>
<line x1="121.4" y1="399.7" x2="826.3" y2="399.7" stroke="#000" stroke-width="1.70"/>
<line x1="155.0" y1="47.5" x2="155.0" y2="60.3" stroke="#000" stroke-width="1.60"/>
<line x1="155.0" y1="386.9" x2="155.0" y2="412.5" stroke="#000" stroke-width="1.60"/>
<line x1="155.0" y1="752.0" x2="155.0" y2="739.2" stroke="#000" stroke-width="1.60"/>
<line x1="188.6" y1="47.5" x2="188.6" y2="53.8" stroke="#000" stroke-width="1.60"/>
<line x1="188.6" y1="393.4" x2="188.6" y2="406.0" stroke="#000" stroke-width="1.60"/>
<line x1="188.6" y1="752.0" x2="188.6" y2="745.7" stroke="#000" stroke-width="1.60"/>
<line x1="222.1" y1="47.5" x2="222.1" y2="53.8" stroke="#000" stroke-width="1.60"/>
<line x1="222.1" y1="393.4" x2="222.1" y2="406.0" stroke="#000" stroke-width="1.60"/>
<line x1="222.1" y1="752.0" x2="222.1" y2="745.7" stroke="#000" stroke-width="1.60"/>
<line x1="255.7" y1="47.5" x2="255.7" y2="53.8" stroke="#000" stroke-width="1.60"/>
<line x1="255.7" y1="393.4" x2="255.7" y2="406.0" stroke="#000" stroke-width="1.60"/>
<line x1="255.7" y1="752.0" x2="255.7" y2="745.7" stroke="#000" stroke-width="1.60"/>
<line x1="289.2" y1="47.5" x2="289.2" y2="53.8" stroke="#000" stroke-width="1.60"/>
<line x1="289.2" y1="393.4" x2="289.2" y2="406.0" stroke="#000" stroke-width="1.60"/>
<line x1="289.2" y1="752.0" x2="289.2" y2="745.7" stroke="#000" stroke-width="1.60"/>
<line x1="322.8" y1="47.5" x2="322.8" y2="60.3" stroke="#000" stroke-width="1.60"/>
<line x1="322.8" y1="386.9" x2="322.8" y2="412.5" stroke="#000" stroke-width="1.60"/>
<line x1="322.8" y1="752.0" x2="322.8" y2="739.2" stroke="#000" stroke-width="1.60"/>
<line x1="356.4" y1="47.5" x2="356.4" y2="53.8" stroke="#000" stroke-width="1.60"/>
<line x1="356.4" y1="393.4" x2="356.4" y2="406.0" stroke="#000" stroke-width="1.60"/>
<line x1="356.4" y1="752.0" x2="356.4" y2="745.7" stroke="#000" stroke-width="1.60"/>
<line x1="389.9" y1="47.5" x2="389.9" y2="53.8" stroke="#000" stroke-width="1.60"/>
<line x1="389.9" y1="393.4" x2="389.9" y2="406.0" stroke="#000" stroke-width="1.60"/>
<line x1="389.9" y1="752.0" x2="389.9" y2="745.7" stroke="#000" stroke-width="1.60"/>
<line x1="423.5" y1="47.5" x2="423.5" y2="53.8" stroke="#000" stroke-width="1.60"/>
<line x1="423.5" y1="393.4" x2="423.5" y2="406.0" stroke="#000" stroke-width="1.60"/>
<line x1="423.5" y1="752.0" x2="423.5" y2="745.7" stroke="#000" stroke-width="1.60"/>
<line x1="457.0" y1="47.5" x2="457.0" y2="53.8" stroke="#000" stroke-width="1.60"/>
<line x1="457.0" y1="393.4" x2="457.0" y2="406.0" stroke="#000" stroke-width="1.60"/>
<line x1="457.0" y1="752.0" x2="457.0" y2="745.7" stroke="#000" stroke-width="1.60"/>
<line x1="490.6" y1="47.5" x2="490.6" y2="60.3" stroke="#000" stroke-width="1.60"/>
<line x1="490.6" y1="386.9" x2="490.6" y2="412.5" stroke="#000" stroke-width="1.60"/>
<line x1="490.6" y1="752.0" x2="490.6" y2="739.2" stroke="#000" stroke-width="1.60"/>
<line x1="524.2" y1="47.5" x2="524.2" y2="53.8" stroke="#000" stroke-width="1.60"/>
<line x1="524.2" y1="393.4" x2="524.2" y2="406.0" stroke="#000" stroke-width="1.60"/>
<line x1="524.2" y1="752.0" x2="524.2" y2="745.7" stroke="#000" stroke-width="1.60"/>
<line x1="557.7" y1="47.5" x2="557.7" y2="53.8" stroke="#000" stroke-width="1.60"/>
<line x1="557.7" y1="393.4" x2="557.7" y2="406.0" stroke="#000" stroke-width="1.60"/>
<line x1="557.7" y1="752.0" x2="557.7" y2="745.7" stroke="#000" stroke-width="1.60"/>
<line x1="591.3" y1="47.5" x2="591.3" y2="53.8" stroke="#000" stroke-width="1.60"/>
<line x1="591.3" y1="393.4" x2="591.3" y2="406.0" stroke="#000" stroke-width="1.60"/>
<line x1="591.3" y1="752.0" x2="591.3" y2="745.7" stroke="#000" stroke-width="1.60"/>
<line x1="624.8" y1="47.5" x2="624.8" y2="53.8" stroke="#000" stroke-width="1.60"/>
<line x1="624.8" y1="393.4" x2="624.8" y2="406.0" stroke="#000" stroke-width="1.60"/>
<line x1="624.8" y1="752.0" x2="624.8" y2="745.7" stroke="#000" stroke-width="1.60"/>
<line x1="658.4" y1="47.5" x2="658.4" y2="60.3" stroke="#000" stroke-width="1.60"/>
<line x1="658.4" y1="386.9" x2="658.4" y2="412.5" stroke="#000" stroke-width="1.60"/>
<line x1="658.4" y1="752.0" x2="658.4" y2="739.2" stroke="#000" stroke-width="1.60"/>
<line x1="692.0" y1="47.5" x2="692.0" y2="53.8" stroke="#000" stroke-width="1.60"/>
<line x1="692.0" y1="393.4" x2="692.0" y2="406.0" stroke="#000" stroke-width="1.60"/>
<line x1="692.0" y1="752.0" x2="692.0" y2="745.7" stroke="#000" stroke-width="1.60"/>
<line x1="725.5" y1="47.5" x2="725.5" y2="53.8" stroke="#000" stroke-width="1.60"/>
<line x1="725.5" y1="393.4" x2="725.5" y2="406.0" stroke="#000" stroke-width="1.60"/>
<line x1="725.5" y1="752.0" x2="725.5" y2="745.7" stroke="#000" stroke-width="1.60"/>
<line x1="759.1" y1="47.5" x2="759.1" y2="53.8" stroke="#000" stroke-width="1.60"/>
<line x1="759.1" y1="393.4" x2="759.1" y2="406.0" stroke="#000" stroke-width="1.60"/>
<line x1="759.1" y1="752.0" x2="759.1" y2="745.7" stroke="#000" stroke-width="1.60"/>
<line x1="792.6" y1="47.5" x2="792.6" y2="53.8" stroke="#000" stroke-width="1.60"/>
<line x1="792.6" y1="393.4" x2="792.6" y2="406.0" stroke="#000" stroke-width="1.60"/>
<line x1="792.6" y1="752.0" x2="792.6" y2="745.7" stroke="#000" stroke-width="1.60"/>
<line x1="121.4" y1="381.3" x2="127.7" y2="381.3" stroke="#000" stroke-width="1.60"/>
<line x1="826.3" y1="381.3" x2="820.0" y2="381.3" stroke="#000" stroke-width="1.60"/>
<line x1="121.4" y1="363.2" x2="134.2" y2="363.2" stroke="#000" stroke-width="1.60"/>
<line x1="826.3" y1="363.2" x2="813.5" y2="363.2" stroke="#000" stroke-width="1.60"/>
<line x1="121.4" y1="345.2" x2="127.7" y2="345.2" stroke="#000" stroke-width="1.60"/>
<line x1="826.3" y1="345.2" x2="820.0" y2="345.2" stroke="#000" stroke-width="1.60"/>
<line x1="121.4" y1="327.1" x2="127.7" y2="327.1" stroke="#000" stroke-width="1.60"/>
<line x1="826.3" y1="327.1" x2="820.0" y2="327.1" stroke="#000" stroke-width="1.60"/>
<line x1="121.4" y1="309.1" x2="127.7" y2="309.1" stroke="#000" stroke-width="1.60"/>
<line x1="826.3" y1="309.1" x2="820.0" y2="309.1" stroke="#000" stroke-width="1.60"/>
<line x1="121.4" y1="291.1" x2="127.7" y2="291.1" stroke="#000" stroke-width="1.60"/>
<line x1="826.3" y1="291.1" x2="820.0" y2="291.1" stroke="#000" stroke-width="1.60"/>
<line x1="121.4" y1="273.0" x2="134.2" y2="273.0" stroke="#000" stroke-width="1.60"/>
<line x1="826.3" y1="273.0" x2="813.5" y2="273.0" stroke="#000" stroke-width="1.60"/>
<line x1="121.4" y1="255.0" x2="127.7" y2="255.0" stroke="#000" stroke-width="1.60"/>
<line x1="826.3" y1="255.0" x2="820.0" y2="255.0" stroke="#000" stroke-width="1.60"/>
<line x1="121.4" y1="236.9" x2="127.7" y2="236.9" stroke="#000" stroke-width="1.60"/>
<line x1="826.3" y1="236.9" x2="820.0" y2="236.9" stroke="#000" stroke-width="1.60"/>
<line x1="121.4" y1="218.9" x2="127.7" y2="218.9" stroke="#000" stroke-width="1.60"/>
<line x1="826.3" y1="218.9" x2="820.0" y2="218.9" stroke="#000" stroke-width="1.60"/>
<line x1="121.4" y1="200.8" x2="127.7" y2="200.8" stroke="#000" stroke-width="1.60"/>
<line x1="826.3" y1="200.8" x2="820.0" y2="200.8" stroke="#000" stroke-width="1.60"/>
<line x1="121.4" y1="182.8" x2="134.2" y2="182.8" stroke="#000" stroke-width="1.60"/>
<line x1="826.3" y1="182.8" x2="813.5" y2="182.8" stroke="#000" stroke-width="1.60"/>
<line x1="121.4" y1="164.7" x2="127.7" y2="164.7" stroke="#000" stroke-width="1.60"/>
<line x1="826.3" y1="164.7" x2="820.0" y2="164.7" stroke="#000" stroke-width="1.60"/>
<line x1="121.4" y1="146.7" x2="127.7" y2="146.7" stroke="#000" stroke-width="1.60"/>
<line x1="826.3" y1="146.7" x2="820.0" y2="146.7" stroke="#000" stroke-width="1.60"/>
<line x1="121.4" y1="128.6" x2="127.7" y2="128.6" stroke="#000" stroke-width="1.60"/>
<line x1="826.3" y1="128.6" x2="820.0" y2="128.6" stroke="#000" stroke-width="1.60"/>
<line x1="121.4" y1="110.5" x2="127.7" y2="110.5" stroke="#000" stroke-width="1.60"/>
<line x1="826.3" y1="110.5" x2="820.0" y2="110.5" stroke="#000" stroke-width="1.60"/>
<line x1="121.4" y1="92.5" x2="134.2" y2="92.5" stroke="#000" stroke-width="1.60"/>
<line x1="826.3" y1="92.5" x2="813.5" y2="92.5" stroke="#000" stroke-width="1.60"/>
<line x1="121.4" y1="74.5" x2="127.7" y2="74.5" stroke="#000" stroke-width="1.60"/>
<line x1="826.3" y1="74.5" x2="820.0" y2="74.5" stroke="#000" stroke-width="1.60"/>
<line x1="121.4" y1="56.4" x2="127.7" y2="56.4" stroke="#000" stroke-width="1.60"/>
<line x1="826.3" y1="56.4" x2="820.0" y2="56.4" stroke="#000" stroke-width="1.60"/>
<line x1="121.4" y1="736.5" x2="134.2" y2="736.5" stroke="#000" stroke-width="1.60"/>
<line x1="826.3" y1="736.5" x2="813.5" y2="736.5" stroke="#000" stroke-width="1.60"/>
<line x1="121.4" y1="720.8" x2="127.7" y2="720.8" stroke="#000" stroke-width="1.60"/>
<line x1="826.3" y1="720.8" x2="820.0" y2="720.8" stroke="#000" stroke-width="1.60"/>
<line x1="121.4" y1="705.1" x2="127.7" y2="705.1" stroke="#000" stroke-width="1.60"/>
<line x1="826.3" y1="705.1" x2="820.0" y2="705.1" stroke="#000" stroke-width="1.60"/>
<line x1="121.4" y1="689.4" x2="127.7" y2="689.4" stroke="#000" stroke-width="1.60"/>
<line x1="826.3" y1="689.4" x2="820.0" y2="689.4" stroke="#000" stroke-width="1.60"/>
<line x1="121.4" y1="673.7" x2="127.7" y2="673.7" stroke="#000" stroke-width="1.60"/>
<line x1="826.3" y1="673.7" x2="820.0" y2="673.7" stroke="#000" stroke-width="1.60"/>
<line x1="121.4" y1="658.0" x2="134.2" y2="658.0" stroke="#000" stroke-width="1.60"/>
<line x1="826.3" y1="658.0" x2="813.5" y2="658.0" stroke="#000" stroke-width="1.60"/>
<line x1="121.4" y1="642.3" x2="127.7" y2="642.3" stroke="#000" stroke-width="1.60"/>
<line x1="826.3" y1="642.3" x2="820.0" y2="642.3" stroke="#000" stroke-width="1.60"/>
<line x1="121.4" y1="626.6" x2="127.7" y2="626.6" stroke="#000" stroke-width="1.60"/>
<line x1="826.3" y1="626.6" x2="820.0" y2="626.6" stroke="#000" stroke-width="1.60"/>
<line x1="121.4" y1="610.9" x2="127.7" y2="610.9" stroke="#000" stroke-width="1.60"/>
<line x1="826.3" y1="610.9" x2="820.0" y2="610.9" stroke="#000" stroke-width="1.60"/>
<line x1="121.4" y1="595.2" x2="127.7" y2="595.2" stroke="#000" stroke-width="1.60"/>
<line x1="826.3" y1="595.2" x2="820.0" y2="595.2" stroke="#000" stroke-width="1.60"/>
<line x1="121.4" y1="579.5" x2="134.2" y2="579.5" stroke="#000" stroke-width="1.60"/>
<line x1="826.3" y1="579.5" x2="813.5" y2="579.5" stroke="#000" stroke-width="1.60"/>
<line x1="121.4" y1="563.8" x2="127.7" y2="563.8" stroke="#000" stroke-width="1.60"/>
<line x1="826.3" y1="563.8" x2="820.0" y2="563.8" stroke="#000" stroke-width="1.60"/>
<line x1="121.4" y1="548.1" x2="127.7" y2="548.1" stroke="#000" stroke-width="1.60"/>
<line x1="826.3" y1="548.1" x2="820.0" y2="548.1" stroke="#000" stroke-width="1.60"/>
<line x1="121.4" y1="532.4" x2="127.7" y2="532.4" stroke="#000" stroke-width="1.60"/>
<line x1="826.3" y1="532.4" x2="820.0" y2="532.4" stroke="#000" stroke-width="1.60"/>
<line x1="121.4" y1="516.7" x2="127.7" y2="516.7" stroke="#000" stroke-width="1.60"/>
<line x1="826.3" y1="516.7" x2="820.0" y2="516.7" stroke="#000" stroke-width="1.60"/>
<line x1="121.4" y1="501.0" x2="134.2" y2="501.0" stroke="#000" stroke-width="1.60"/>
<line x1="826.3" y1="501.0" x2="813.5" y2="501.0" stroke="#000" stroke-width="1.60"/>
<line x1="121.4" y1="485.3" x2="127.7" y2="485.3" stroke="#000" stroke-width="1.60"/>
<line x1="826.3" y1="485.3" x2="820.0" y2="485.3" stroke="#000" stroke-width="1.60"/>
<line x1="121.4" y1="469.6" x2="127.7" y2="469.6" stroke="#000" stroke-width="1.60"/>
<line x1="826.3" y1="469.6" x2="820.0" y2="469.6" stroke="#000" stroke-width="1.60"/>
<line x1="121.4" y1="453.9" x2="127.7" y2="453.9" stroke="#000" stroke-width="1.60"/>
<line x1="826.3" y1="453.9" x2="820.0" y2="453.9" stroke="#000" stroke-width="1.60"/>
<line x1="121.4" y1="438.2" x2="127.7" y2="438.2" stroke="#000" stroke-width="1.60"/>
<line x1="826.3" y1="438.2" x2="820.0" y2="438.2" stroke="#000" stroke-width="1.60"/>
<line x1="121.4" y1="422.5" x2="134.2" y2="422.5" stroke="#000" stroke-width="1.60"/>
<line x1="826.3" y1="422.5" x2="813.5" y2="422.5" stroke="#000" stroke-width="1.60"/>
<line x1="121.4" y1="406.8" x2="127.7" y2="406.8" stroke="#000" stroke-width="1.60"/>
<line x1="826.3" y1="406.8" x2="820.0" y2="406.8" stroke="#000" stroke-width="1.60"/>
<text transform="translate(111.3,99.5) scale(1.2,1)" font-size="19.0" font-family="Liberation Sans, sans-serif" text-anchor="end" stroke="#000" stroke-width="0.35">0</text>
<text transform="translate(111.3,189.8) scale(1.2,1)" font-size="19.0" font-family="Liberation Sans, sans-serif" text-anchor="end" stroke="#000" stroke-width="0.35">−0.5</text>
<text transform="translate(111.3,280.0) scale(1.2,1)" font-size="19.0" font-family="Liberation Sans, sans-serif" text-anchor="end" stroke="#000" stroke-width="0.35">−1</text>
<text transform="translate(111.3,370.2) scale(1.2,1)" font-size="19.0" font-family="Liberation Sans, sans-serif" text-anchor="end" stroke="#000" stroke-width="0.35">−1.5</text>
<text transform="translate(111.3,429.5) scale(1.2,1)" font-size="19.0" font-family="Liberation Sans, sans-serif" text-anchor="end" stroke="#000" stroke-width="0.35">−3.5</text>
<text transform="translate(111.3,508.0) scale(1.2,1)" font-size="19.0" font-family="Liberation Sans, sans-serif" text-anchor="end" stroke="#000" stroke-width="0.35">−4</text>
<text transform="translate(111.3,586.5) scale(1.2,1)" font-size="19.0" font-family="Liberation Sans, sans-serif" text-anchor="end" stroke="#000" stroke-width="0.35">−4.5</text>
<text transform="translate(111.3,665.0) scale(1.2,1)" font-size="19.0" font-family="Liberation Sans, sans-serif" text-anchor="end" stroke="#000" stroke-width="0.35">−5</text>
<text transform="translate(111.3,743.5) scale(1.2,1)" font-size="19.0" font-family="Liberation Sans, sans-serif" text-anchor="end" stroke="#000" stroke-width="0.35">−5.5</text>
<text transform="translate(155.0,775.9) scale(1.2,1)" font-size="19.0" font-family="Liberation Sans, sans-serif" text-anchor="middle" stroke="#000" stroke-width="0.35">0</text>
<text transform="translate(322.8,775.9) scale(1.2,1)" font-size="19.0" font-family="Liberation Sans, sans-serif" text-anchor="middle" stroke="#000" stroke-width="0.35">1</text>
<text transform="translate(490.6,775.9) scale(1.2,1)" font-size="19.0" font-family="Liberation Sans, sans-serif" text-anchor="middle" stroke="#000" stroke-width="0.35">2</text>
<text transform="translate(658.4,775.9) scale(1.2,1)" font-size="19.0" font-family="Liberation Sans, sans-serif" text-anchor="middle" stroke="#000" stroke-width="0.35">3</text>
<text transform="translate(826.2,775.9) scale(1.2,1)" font-size="19.0" font-family="Liberation Sans, sans-serif" text-anchor="middle" stroke="#000" stroke-width="0.35">4</text>
<text transform="translate(415.0,829.6) scale(1.2,1)" font-size="29.5" font-family="Liberation Serif, serif" letter-spacing="1.15">redshift</text>
<text x="735.3" y="114.4" font-size="22.0" font-family="Liberation Serif, serif" text-anchor="start" fill="#000" textLength="30" lengthAdjust="spacingAndGlyphs" stroke="#000" stroke-width="0.3">DD</text>
<text x="735.3" y="136.2" font-size="22.0" font-family="Liberation Serif, serif" text-anchor="start" fill="#000" letter-spacing="1.1" stroke="#000" stroke-width="0.3">MR01</text>
<text x="536.0" y="200.3" font-size="20.0" font-family="Liberation Serif, serif" text-anchor="start" fill="#00ff00" letter-spacing="2.3" stroke-width="0.6" stroke="#00ff00">Total</text>
<text x="300.3" y="262.0" font-size="20.0" font-family="Liberation Serif, serif" text-anchor="start" fill="#0000ff" letter-spacing="2.3" stroke-width="0.6" stroke="#0000ff">Spirals</text>
<text x="302.0" y="358.3" font-size="20.0" font-family="Liberation Serif, serif" text-anchor="start" fill="#ff0000" letter-spacing="1.6" stroke-width="0.6" stroke="#ff0000">Ellipticals</text>
<text x="536.0" y="474.0" font-size="20.0" font-family="Liberation Serif, serif" text-anchor="start" fill="#00ff00" letter-spacing="2.3" stroke-width="0.6" stroke="#00ff00">Total</text>
<text x="300.3" y="578.3" font-size="20.0" font-family="Liberation Serif, serif" text-anchor="start" fill="#0000ff" letter-spacing="2.3" stroke-width="0.6" stroke="#0000ff">Spirals</text>
<text x="211.0" y="717.3" font-size="20.0" font-family="Liberation Serif, serif" text-anchor="start" fill="#ff0000" letter-spacing="1.6" stroke-width="0.6" stroke="#ff0000">Ellipticals</text>
<text transform="translate(20.0,307.3) rotate(-90) scale(1.220,1)" font-size="27.5" font-family="Liberation Serif, serif" letter-spacing="1.00" >log</text>
<text transform="translate(20.0,249.6) rotate(-90) scale(0.920,1)" font-size="27.5" font-family="Liberation Serif, serif" letter-spacing="0.40" >SN</text>
<text transform="translate(20.0,199.0) rotate(-90) scale(1.250,1)" font-size="27.5" font-family="Liberation Serif, serif" letter-spacing="2.60" >rate</text>
<text transform="translate(20.0,659.6) rotate(-90) scale(1.220,1)" font-size="27.5" font-family="Liberation Serif, serif" letter-spacing="1.00" >log</text>
<text transform="translate(20.0,601.9) rotate(-90) scale(0.920,1)" font-size="27.5" font-family="Liberation Serif, serif" letter-spacing="0.40" >SN</text>
<text transform="translate(20.0,551.3) rotate(-90) scale(1.250,1)" font-size="27.5" font-family="Liberation Serif, serif" letter-spacing="2.60" >rate</text>
<text transform="translate(47.2,316.3) rotate(-90) scale(1.250,1)" font-size="22.5" font-family="Liberation Mono, monospace" letter-spacing="0.00" >C</text>
<text transform="translate(47.2,298.8) rotate(-90) scale(1.000,1)" font-size="22.5" font-family="Liberation Mono, monospace" letter-spacing="-0.30" >ent</text>
<text transform="translate(47.2,262.0) rotate(-90) scale(1.050,1)" font-size="22.5" font-family="Liberation Mono, monospace" letter-spacing="-0.60" >ury</text>
<text transform="translate(47.2,205.2) rotate(-90) scale(1.100,1)" font-size="23.0" font-family="Liberation Serif, serif" letter-spacing="0.00" stroke="#000" stroke-width="0.3">10</text>
<text transform="translate(39.6,172.9) rotate(-90) scale(0.820,1)" font-size="14.5" font-family="Liberation Sans, sans-serif" letter-spacing="-0.30" font-weight="bold">10</text>
<text transform="translate(47.2,149.2) rotate(-90) scale(0.950,1)" font-size="23.0" font-family="Liberation Serif, serif" letter-spacing="0.00" stroke="#000" stroke-width="0.3">L</text>
<text transform="translate(54.4,136.7) rotate(-90) scale(0.950,1)" font-size="14.5" font-family="Liberation Mono, monospace" letter-spacing="0.00" font-weight="bold">B</text>
<circle cx="48.7" cy="122.2" r="4.6" fill="none" stroke="#000" stroke-width="1.4"/><circle cx="48.7" cy="122.2" r="1.3" fill="#000"/>
<path d="M28.7 333.0 L28.7 338.3 L51.6 338.3 L51.6 333.0" fill="none" stroke="#000" stroke-width="1.5" stroke-linejoin="miter"/>
<path d="M28.7 114.5 L28.7 109.3 L51.6 109.3 L51.6 114.5" fill="none" stroke="#000" stroke-width="1.5" stroke-linejoin="miter"/>
<path d="M29.0 637.8 L29.0 643.8 L51.6 643.8 L51.6 637.8" fill="none" stroke="#000" stroke-width="1.5" stroke-linejoin="miter"/>
<path d="M29.0 515.0 L29.0 509.0 L51.6 509.0 L51.6 515.0" fill="none" stroke="#000" stroke-width="1.5" stroke-linejoin="miter"/>
<line x1="51.3" y1="329.5" x2="28.9" y2="317.0" stroke="#000" stroke-width="1.50"/>
<line x1="51.3" y1="219.5" x2="28.9" y2="207.0" stroke="#000" stroke-width="1.50"/>
<text transform="translate(47.2,637.0) rotate(-90) scale(1.000,1)" font-size="22.5" font-family="Liberation Mono, monospace" letter-spacing="-0.80" >yr</text>
<text transform="translate(41.6,611.0) rotate(-90) scale(0.950,1)" font-size="15.0" font-family="Liberation Sans, sans-serif" letter-spacing="1.60" font-weight="bold">−1</text>
<text transform="translate(47.2,581.8) rotate(-90) scale(1.320,1)" font-size="22.5" font-family="Liberation Mono, monospace" letter-spacing="0.00" >M</text>
<text transform="translate(47.2,563.0) rotate(-90) scale(1.000,1)" font-size="22.5" font-family="Liberation Mono, monospace" letter-spacing="-1.20" >pc</text>
<text transform="translate(41.6,538.0) rotate(-90) scale(0.950,1)" font-size="15.0" font-family="Liberation Sans, sans-serif" letter-spacing="1.60" font-weight="bold">−3</text></svg></body></html>
